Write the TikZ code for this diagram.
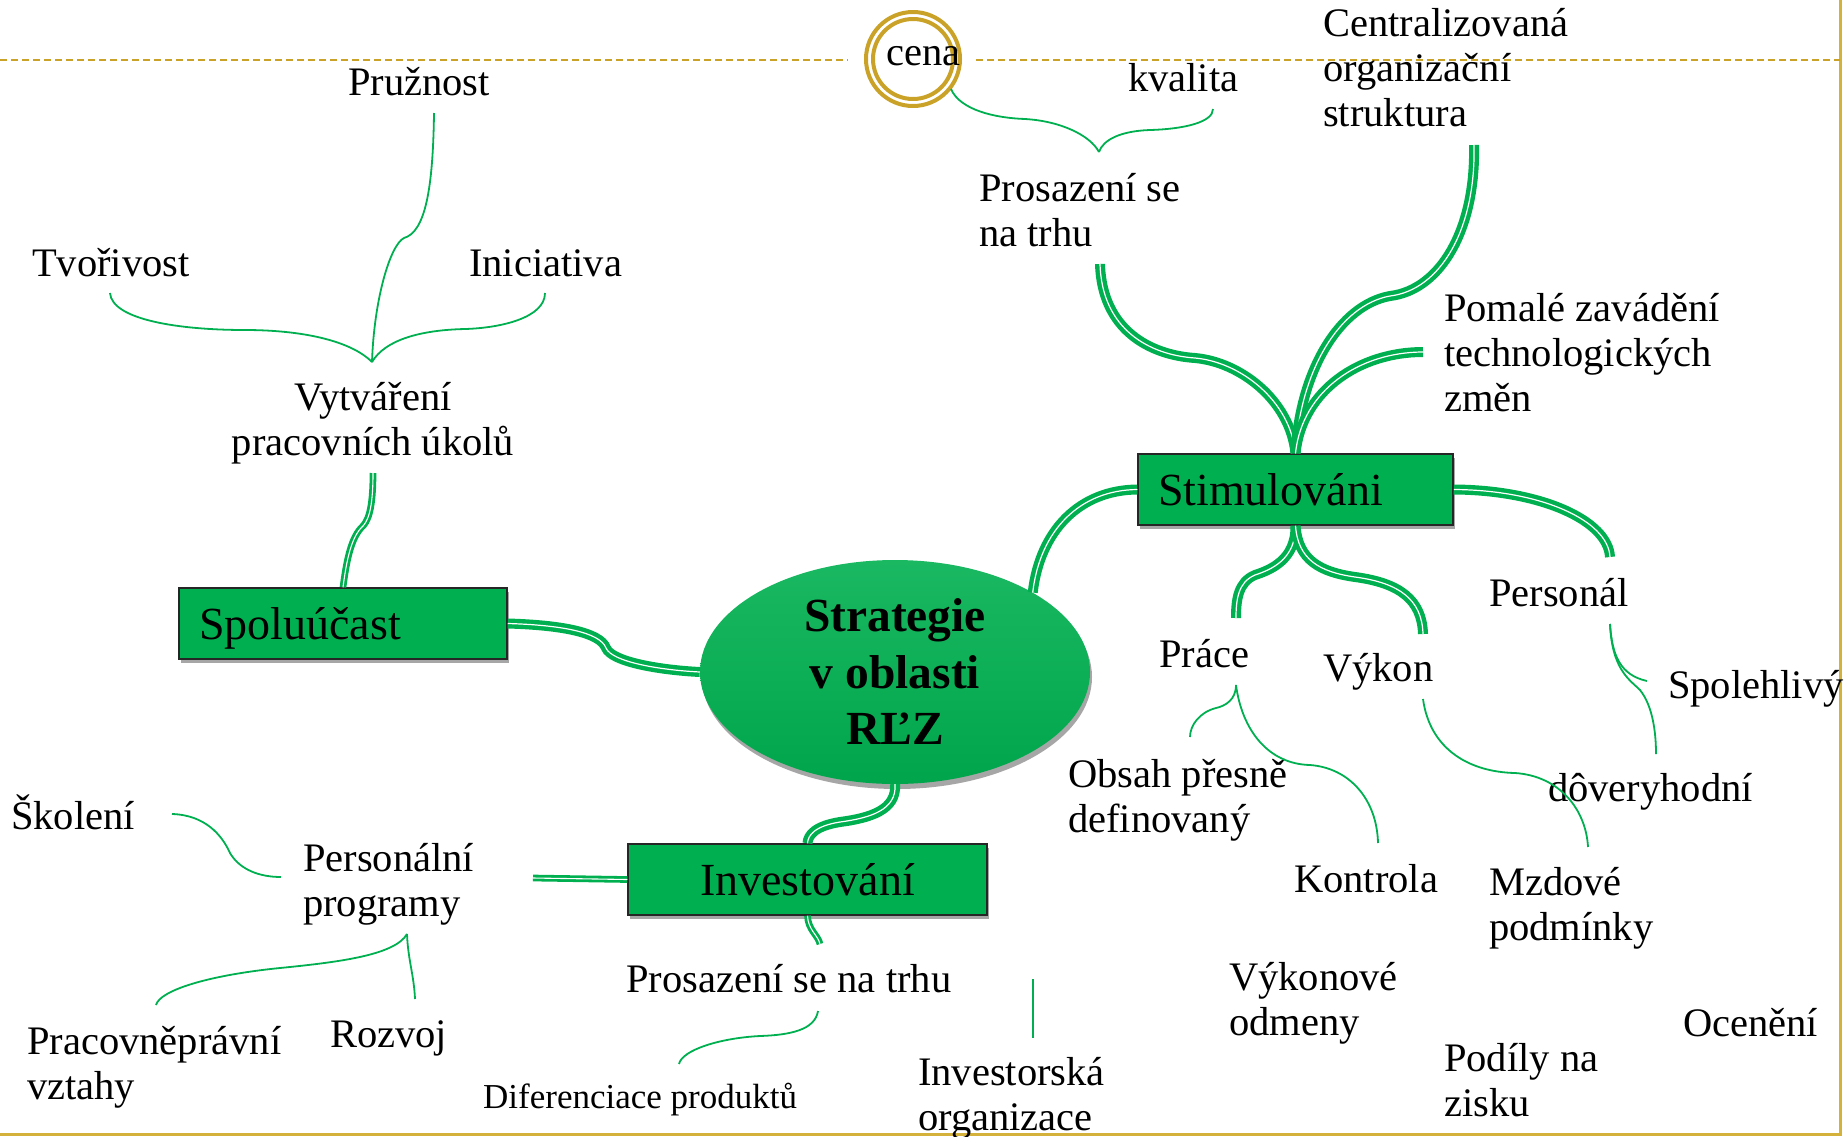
\documentclass[tikz,border=0pt]{standalone}
\usepackage{fontspec}
\setmainfont{Liberation Serif}
\usetikzlibrary{shapes.geometric,shadows}

\definecolor{leaf}{HTML}{00B050}
\definecolor{boxgreen}{HTML}{00B050}
\definecolor{gold}{HTML}{C9A227}
\definecolor{framegold}{HTML}{D4B13A}

% multi-line labels whose baseline is the first line
\newcommand\stackL[1]{\vtop{\halign{##\hfil\cr#1\crcr}}}
\newcommand\stackC[1]{\vtop{\halign{\hfil##\hfil\cr#1\crcr}}}

\tikzset{
  lbl/.style={inner sep=0pt, anchor=base west, font=\fontsize{40.5}{45}\selectfont},
  twig/.style={draw=leaf, line width=1.8pt},
  limb/.style={draw=leaf, line width=4.4pt, double=white, double distance=1.2pt},
  stem/.style={draw=leaf, line width=2.8pt, double=white, double distance=1.1pt},
  boxnode/.style={rectangle, draw=black!85, line width=1.5pt, fill=boxgreen,
    minimum height=71pt, inner xsep=20pt, text height=32pt, text depth=0pt,
    font=\fontsize{46}{50}\selectfont,
    drop shadow={shadow xshift=2pt, shadow yshift=-4pt, opacity=0.35, fill=black}},
}

\begin{document}
\begin{tikzpicture}[x=1pt,y=-1pt]
\useasboundingbox (0,0) rectangle (1848,1136);

% page frame and dashed rule
\draw[framegold, line width=3pt] (1840,0) -- (1840,1134.5) -- (0,1134.5);
\draw[gold, line width=2pt, dash pattern=on 7pt off 4pt] (0,60) -- (848,60);
\draw[gold, line width=2pt, dash pattern=on 7pt off 4pt] (976,60) -- (1840,60);

% ring around "cena"
\node[circle, draw=gold, line width=4pt, minimum size=94pt, inner sep=0pt] (ringout) at (913,59) {};
\node[circle, draw=gold, line width=4pt, minimum size=80pt, inner sep=0pt] (ringin) at (913,59) {};

% central ellipse and the three boxes
\node[ellipse, minimum width=390pt, minimum height=224pt, inner sep=0pt,
      top color=leaf!90!white, bottom color=leaf!94!black,
      drop shadow={shadow xshift=2pt, shadow yshift=-5pt, opacity=0.35, fill=black},
      font=\fontsize{47.5}{56.5}\selectfont\bfseries] (core) at (895,672)
      {\stackC{Strategie\cr v oblasti\cr RĽZ}};

\node[boxnode, minimum width=315pt, text width=275pt, align=left] (stim) at (1295.5,489.5) {Stimulováni};
\node[boxnode, minimum width=328pt, text width=288pt, align=left] (spol) at (343,623.5) {Spoluúčast};
\node[boxnode, minimum width=359pt, text width=319pt, align=center] (inv) at (807.5,879.5) {Investování};

% labels
\node[lbl] (cena) at (886,65) {cena};
\node[lbl] (pruz) at (348,95) {Pružnost};
\node[lbl] (kval) at (1128,91) {kvalita};
\node[lbl] (centr) at (1323,36) {\stackL{Centralizovaná\cr organizační\cr struktura}};
\node[lbl] (tvor) at (32,276) {Tvořivost};
\node[lbl] (inic) at (469,276) {Iniciativa};
\node[lbl] (prosA) at (979,201) {\stackL{Prosazení se\cr na trhu}};
\node[lbl] (pomal) at (1444,321.5) {\stackL{Pomalé zavádění\cr technologických\cr změn}};
\node[lbl, anchor=base] (vytv) at (373,410) {\stackC{Vytváření\cr pracovních úkolů}};
\node[lbl] (persl) at (1489,606) {Personál};
\node[lbl] (prace) at (1159,667) {Práce};
\node[lbl] (vykon) at (1323,681.5) {Výkon};
\node[lbl] (spolh) at (1668,698) {Spolehlivý};
\node[lbl] (obsah) at (1068,787.5) {\stackL{Obsah přesně\cr definovaný}};
\node[lbl] (dover) at (1548,801.5) {dôveryhodní};
\node[lbl] (skol) at (11,829.5) {Školení};
\node[lbl] (pprog) at (303,871.5) {\stackL{Personální\cr programy}};
\node[lbl] (kontr) at (1294,892.5) {Kontrola};
\node[lbl] (mzdy) at (1489,895) {\stackL{Mzdové\cr podmínky}};
\node[lbl] (prosB) at (626,992.5) {Prosazení se na trhu};
\node[lbl] (vodm) at (1229,990.5) {\stackL{Výkonové\cr odmeny}};
\node[lbl] (pravo) at (27,1054.5) {\stackL{Pracovněprávní\cr vztahy}};
\node[lbl] (rozv) at (330,1047.5) {Rozvoj};
\node[lbl] (ocen) at (1683,1036.5) {Ocenění};
\node[lbl] (podil) at (1444,1071.5) {\stackL{Podíly na\cr zisku}};
\node[lbl] (iorg) at (918,1085.5) {\stackL{Investorská\cr organizace}};
\node[lbl, font=\fontsize{35}{40}\selectfont] (difer) at (483,1108.5) {Diferenciace produktů};

% connector end points
\coordinate (tipA) at (372,362);
\coordinate (pruzE) at (434,113);
\coordinate (tvorE) at (110,293);
\coordinate (inicE) at (545,293);
\coordinate (vytvE) at (373,473);
\coordinate (tipB) at (1099,152);
\coordinate (cenaE) at (951,89);
\coordinate (kvalE) at (1213,109);
\coordinate (prosAE) at (1100,264);
\coordinate (centrE) at (1474,145);
\coordinate (pomalE) at (1423,352);
\coordinate (perslT) at (1610,557);
\coordinate (praceT) at (1236,618);
\coordinate (vykonT) at (1423,634);
\coordinate (pprogE) at (533,878);
\coordinate (prosBT) at (820,944);
\coordinate (skolE) at (172,814);
\coordinate (pprogL) at (281,877);
\coordinate (pprogB) at (407,934);
\coordinate (pravoE) at (156,1005);
\coordinate (rozvE) at (415,999);
\coordinate (prosBB) at (818,1011);
\coordinate (diferE) at (679,1064);
\coordinate (iorgA) at (1033,979);
\coordinate (iorgB) at (1033,1038);
\coordinate (praceB) at (1236,685);
\coordinate (obsahE) at (1190,737);
\coordinate (kontrE) at (1378,843);
\coordinate (vykonB) at (1423,699);
\coordinate (mzdyE) at (1588,847);
\coordinate (perslB) at (1610,624);
\coordinate (spolhE) at (1647,681);
\coordinate (doverE) at (1656,754);

% brace above "Vytváření pracovních úkolů"
\draw[twig] (pruzE) .. controls (433,190) and (425,232) .. (404,238) .. controls (390,245) and (374,300) .. (tipA);
\draw[twig] (tvorE) .. controls (112,320) and (180,330) .. (245,330) .. controls (300,330) and (350,340) .. (tipA);
\draw[twig] (inicE) .. controls (545,318) and (500,328) .. (465,329) .. controls (420,330) and (385,340) .. (tipA);
\draw[stem] (vytvE) .. controls (373,510) and (368,522) .. (361,528) .. controls (350,540) and (346,565) .. (spol.north);

% brace above "Prosazení se na trhu"
\draw[twig] (cenaE) .. controls (960,110) and (995,118) .. (1025,119) .. controls (1060,121) and (1090,135) .. (tipB);
\draw[twig] (kvalE) .. controls (1213,122) and (1185,129) .. (1150,130) .. controls (1120,131) and (1103,140) .. (tipB);

% main branches
\draw[limb] (prosAE) .. controls (1102,330) and (1150,355) .. (1195,358) .. controls (1240,362) and (1290,400) .. (stim.north);
\draw[limb] (centrE) .. controls (1476,230) and (1440,290) .. (1390,296) .. controls (1340,305) and (1300,370) .. (stim.north);
\draw[limb] (pomalE) .. controls (1360,352) and (1302,390) .. (stim.north);
\draw[limb] (core.30) .. controls (1040,530) and (1080,490) .. (stim.west);
\draw[limb] (stim.east) .. controls (1540,490) and (1608,520) .. (perslT);
\draw[limb] (stim.south) .. controls (1296,560) and (1270,570) .. (1255,575) .. controls (1238,582) and (1236,600) .. (praceT);
\draw[limb] (stim.south) .. controls (1298,560) and (1320,572) .. (1355,577) .. controls (1400,583) and (1422,600) .. (vykonT);
\draw[limb] (spol.east) .. controls (560,625) and (600,632) .. (606,648) .. controls (612,662) and (660,670) .. (core.west);
\draw[limb] (core.south) .. controls (897,810) and (870,818) .. (840,822) .. controls (815,826) and (808,835) .. (inv.north);
\draw[stem] (inv.west) -- (pprogE);
\draw[stem] (inv.south) .. controls (808,930) and (818,935) .. (prosBT);

% second-level twigs
\draw[twig] (skolE) .. controls (205,815) and (222,835) .. (230,853) .. controls (240,870) and (260,877) .. (pprogL);
\draw[twig] (pprogB) .. controls (395,955) and (340,962) .. (280,968) .. controls (210,975) and (160,990) .. (pravoE);
\draw[twig] (pprogB) .. controls (408,960) and (414,975) .. (rozvE);
\draw[twig] (prosBB) .. controls (815,1030) and (790,1035) .. (760,1036) .. controls (720,1038) and (682,1050) .. (diferE);
\draw[twig] (iorgA) -- (iorgB);
\draw[twig] (praceB) .. controls (1236,700) and (1225,706) .. (1216,708) .. controls (1200,712) and (1190,725) .. (obsahE);
\draw[twig] (praceB) .. controls (1242,730) and (1268,764) .. (1310,765) .. controls (1350,768) and (1377,800) .. (kontrE);
\draw[twig] (vykonB) .. controls (1430,750) and (1470,772) .. (1515,773) .. controls (1560,776) and (1586,810) .. (mzdyE);
\draw[twig] (perslB) .. controls (1612,655) and (1620,675) .. (spolhE);
\draw[twig] (perslB) .. controls (1612,670) and (1630,680) .. (1640,690) .. controls (1652,705) and (1656,730) .. (doverE);
\end{tikzpicture}
\end{document}
